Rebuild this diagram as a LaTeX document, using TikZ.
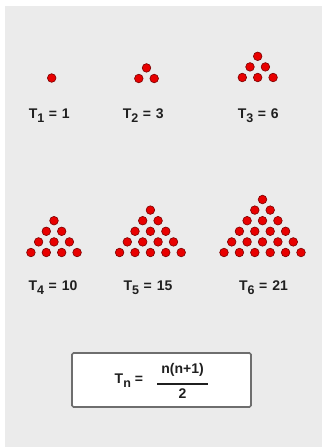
\documentclass[tikz,border=0pt]{standalone}
\usepackage{fontspec}
\setmainfont{Liberation Sans}
\definecolor{bg}{HTML}{EBEBEB}
\definecolor{dotred}{HTML}{E80000}
\definecolor{dotrim}{HTML}{7A0000}
\definecolor{boxline}{HTML}{6E6E6E}
\newcommand{\tsub}[1]{T\raisebox{-4pt}{\fontsize{12.5}{13}\selectfont #1}}
\newcommand{\eqs}{\hspace{4.5pt}=\hspace{5pt}}
\tikzset{
  dot/.style={fill=dotred, draw=dotrim, line width=0.6pt},
  lbl/.style={font=\fontsize{14}{15}\selectfont\bfseries, inner sep=0pt, text=black!88},
}
\newcommand{\tri}[4]{% center x, bottom y, rows
  \foreach \r in {1,...,#3}{
    \pgfmathtruncatemacro{\k}{#3-\r+1}
    \foreach \c in {1,...,\k}{
      \fill[dot] ({#1+(\c-(\k+1)/2)*15.4},{#2-(\r-1)*10.6}) circle (4.3);
    }
  }
}
\begin{document}
\begin{tikzpicture}[x=1pt,y=-1pt]
\useasboundingbox (0,0) rectangle (322,447);
\fill[bg] (5,6) rectangle (322,447);
\tri{51.7}{78}{1}{}
\tri{146.5}{78.5}{2}{}
\tri{257.7}{77.5}{3}{}
\tri{54}{252.5}{4}{}
\tri{150.4}{252.5}{5}{}
\tri{262.5}{252.5}{6}{}
\node[lbl] (l1) at (49.3,116) {\tsub{1}\eqs 1};
\node[lbl] (l2) at (143.3,116) {\tsub{2}\eqs 3};
\node[lbl] (l3) at (258.3,116) {\tsub{3}\eqs 6};
\node[lbl] (l4) at (53,288) {\tsub{4}\eqs 10};
\node[lbl] (l5) at (148,288) {\tsub{5}\eqs 15};
\node[lbl] (l6) at (263.5,288) {\tsub{6}\eqs 21};
\draw[boxline, line width=1.6pt, fill=white, rounded corners=1.5pt] (72,353) rectangle (251,407);
\node[lbl, anchor=west] (lhs) at (114.5,381) {\tsub{n}\hspace{4pt}=};
\node[lbl, align=center] (frac) at (182.5,381) {n(n+1)\\[-4pt]\rule{51pt}{1.6pt}\\[-1pt]2};
\end{tikzpicture}
\end{document}
